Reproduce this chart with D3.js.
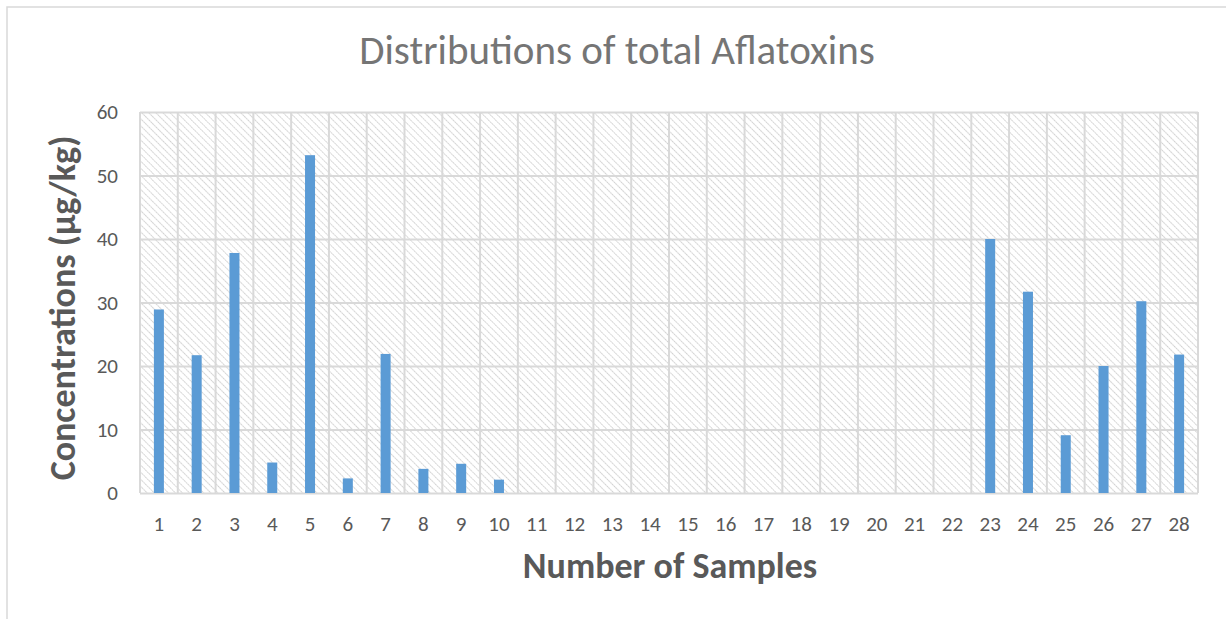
<!DOCTYPE html>
<html>
<head>
<meta charset="utf-8">
<script src="https://cdn.jsdelivr.net/npm/d3@7"></script>
<style>
  html, body { margin: 0; padding: 0; background: #fff; }
  svg { display: block; }
</style>
</head>
<body>
<svg id="chart" width="1226" height="619"></svg>
<script>
// Sample numbers and total aflatoxin concentrations (µg/kg)
const samples = d3.range(1, 29).map(String);
const concentrations = [
  28.9, 21.7, 37.8, 4.8, 53.2, 2.3, 21.9, 3.8, 4.6, 2.1,
  0, 0, 0, 0, 0, 0, 0, 0, 0, 0, 0, 0,
  40.0, 31.7, 9.1, 20.0, 30.2, 21.8
];
const yTicks = [0, 10, 20, 30, 40, 50, 60];

const chartTitle = "Distributions of total Aflatoxins";
const xTitle = "Number of Samples";
const yTitle = "Concentrations (µg/kg)";

const svg = d3.select("#chart");
const font = "Carlito, Calibri, Lato, 'Open Sans', sans-serif";

// Outer chart frame
svg.append("rect")
  .attr("x", 7).attr("y", 7)
  .attr("width", 1240).attr("height", 640)
  .attr("fill", "#fff")
  .attr("stroke", "#d9d9d9").attr("stroke-width", 1.5);

const plot = { left: 140, right: 1198, top: 112, bottom: 493 };

const x = d3.scaleBand()
  .domain(samples)
  .range([plot.left, plot.right])
  .paddingInner(0.735)
  .paddingOuter(0.3675);

const xCat = d3.scaleBand()
  .domain(samples)
  .range([plot.left, plot.right]);

const y = d3.scaleLinear()
  .domain([0, 60])
  .range([plot.bottom, plot.top]);

// Diagonal hatch fill for the plot background
const defs = svg.append("defs");
const pat = defs.append("pattern")
  .attr("id", "hatch")
  .attr("patternUnits", "userSpaceOnUse")
  .attr("width", 5).attr("height", 5)
  .attr("patternTransform", "rotate(-45)");
pat.append("rect").attr("width", 5).attr("height", 5).attr("fill", "#fff");
pat.append("line")
  .attr("x1", 0).attr("y1", 0).attr("x2", 0).attr("y2", 5)
  .attr("stroke", "#c9c9c9").attr("stroke-width", 1.7)
  .attr("stroke-dasharray", "1.8 0.8");

svg.append("rect")
  .attr("x", plot.left).attr("y", plot.top)
  .attr("width", plot.right - plot.left)
  .attr("height", plot.bottom - plot.top)
  .attr("fill", "url(#hatch)");

// Horizontal gridlines
svg.append("g")
  .attr("transform", `translate(${plot.left},0)`)
  .call(d3.axisLeft(y).tickValues(yTicks).tickSize(-(plot.right - plot.left)).tickFormat(""))
  .call(g => g.select(".domain").remove())
  .call(g => g.selectAll("line").attr("stroke", "#d9d9d9").attr("stroke-width", 2));

// Vertical gridlines between categories
const vBounds = samples.map(s => xCat(s)).concat([plot.right]);
svg.append("g").selectAll("line")
  .data(vBounds)
  .join("line")
  .attr("x1", d => d).attr("x2", d => d)
  .attr("y1", plot.top).attr("y2", plot.bottom)
  .attr("stroke", "#d9d9d9").attr("stroke-width", 2);

// Bars
svg.append("g").selectAll("rect")
  .data(concentrations)
  .join("rect")
  .attr("x", (d, i) => x(samples[i]))
  .attr("width", x.bandwidth())
  .attr("y", d => y(d))
  .attr("height", d => y(0) - y(d))
  .attr("fill", "#5b9bd5");

// Y axis labels
svg.append("g")
  .attr("transform", `translate(${plot.left - 22},0)`)
  .call(d3.axisLeft(y).tickValues(yTicks).tickSize(0).tickPadding(0))
  .call(g => g.select(".domain").remove())
  .call(g => g.selectAll("text")
    .attr("fill", "#595959")
    .style("font-family", font)
    .style("font-size", "21px"));

// X axis labels
svg.append("g")
  .attr("transform", `translate(0,${plot.bottom})`)
  .call(d3.axisBottom(xCat).tickSize(0).tickPadding(23))
  .call(g => g.select(".domain").remove())
  .call(g => g.selectAll("text")
    .attr("fill", "#595959")
    .style("font-family", font)
    .style("font-size", "21px"));

// Titles
svg.append("text")
  .attr("x", 617).attr("y", 64)
  .attr("text-anchor", "middle")
  .attr("fill", "#757575")
  .style("font-family", font)
  .style("font-size", "41px")
  .text(chartTitle);

svg.append("text")
  .attr("x", 670).attr("y", 578)
  .attr("text-anchor", "middle")
  .attr("fill", "#595959")
  .style("font-family", font)
  .style("font-weight", "bold")
  .style("font-size", "36px")
  .text(xTitle);

svg.append("text")
  .attr("transform", `translate(75,308) rotate(-90)`)
  .attr("text-anchor", "middle")
  .attr("fill", "#595959")
  .style("font-family", font)
  .style("font-weight", "bold")
  .style("font-size", "36px")
  .text(yTitle);
</script>
</body>
</html>
